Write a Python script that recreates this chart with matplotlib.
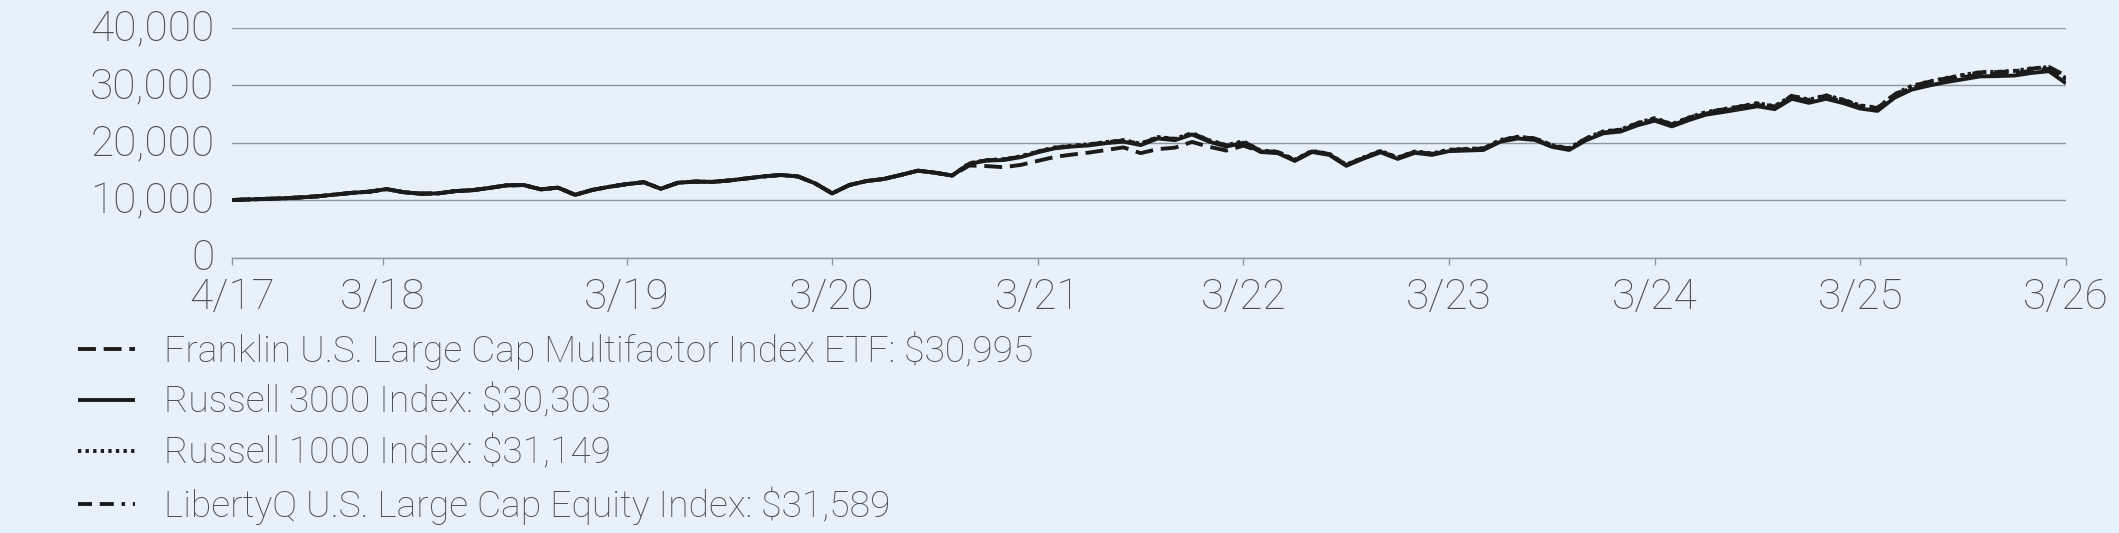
import matplotlib
matplotlib.use("Agg")
import matplotlib.pyplot as plt
import matplotlib.transforms as mtransforms

# ---------------- data (monthly, 4/17 .. 3/26) ----------------
tick_labels = ["4/17", "3/18", "3/19", "3/20", "3/21", "3/22", "3/23", "3/24", "3/25", "3/26"]
tick_months = [0, 8.78, 23, 35, 47, 59, 71, 83, 95, 107]

series_names = [
    "Franklin U.S. Large Cap Multifactor Index ETF: $30,995",
    "Russell 3000 Index: $30,303",
    "Russell 1000 Index: $31,149",
    "LibertyQ U.S. Large Cap Equity Index: $31,589",
]

russell3000 = [
    10000, 10100, 10200, 10300, 10450, 10650, 10950, 11250, 11450, 11900,
    11350, 11100, 11150, 11550, 11700, 12100, 12550, 12600, 11850, 12150,
    10900, 11750, 12300, 12750, 13100, 11950, 13000, 13200, 13150, 13400,
    13750, 14100, 14350, 14100, 12900, 11150, 12600, 13300, 13650, 14350,
    15100, 14750, 14250, 16300, 16850, 16950, 17450, 18300, 19000, 19300,
    19500, 19900, 20150, 19550, 20700, 20400, 21400, 20150, 19300, 19950,
    18350, 18150, 16800, 18350, 17850, 15950, 17200, 18300, 17150, 18200,
    17850, 18500, 18600, 18700, 20150, 20700, 20450, 19250, 18700, 20400,
    21600, 21900, 23000, 23800, 22800, 23900, 24850, 25300, 25800, 26300,
    25800, 27600, 26900, 27600, 26850, 25900, 25500, 27800, 29200, 29900,
    30500, 31000, 31500, 31550, 31650, 32100, 32400, 30303,
]

russell1000 = [
    10000, 10100, 10200, 10300, 10450, 10650, 10950, 11250, 11450, 11900,
    11350, 11100, 11150, 11550, 11700, 12100, 12550, 12600, 11850, 12150,
    10900, 11750, 12300, 12750, 13100, 11950, 13000, 13200, 13150, 13400,
    13750, 14100, 14350, 14100, 12900, 11150, 12600, 13300, 13650, 14350,
    15100, 14750, 14250, 16400, 16950, 17100, 17600, 18450, 19150, 19450,
    19700, 20100, 20400, 19800, 20950, 20650, 21650, 20400, 19550, 20200,
    18600, 18400, 17000, 18550, 18050, 16150, 17400, 18550, 17400, 18450,
    18100, 18750, 18900, 19000, 20450, 21000, 20750, 19550, 19000, 20750,
    21950, 22250, 23400, 24250, 23200, 24350, 25300, 25800, 26300, 26850,
    26300, 28150, 27450, 28200, 27450, 26450, 26050, 28400, 29850, 30600,
    31200, 31750, 32250, 32300, 32450, 32900, 33100, 31149,
]

franklin_etf = [
    10000, 10100, 10200, 10300, 10450, 10650, 10950, 11250, 11450, 11900,
    11350, 11100, 11150, 11550, 11700, 12100, 12550, 12600, 11850, 12150,
    10900, 11750, 12300, 12750, 13100, 11950, 13000, 13200, 13150, 13400,
    13750, 14100, 14350, 14100, 12900, 11150, 12600, 13300, 13650, 14350,
    15100, 14750, 14250, 16000, 15900, 15700, 16100, 16800, 17500, 17900,
    18250, 18700, 19150, 18150, 18850, 19100, 20100, 19250, 18600, 19450,
    18450, 18250, 16900, 18450, 17950, 16050, 17300, 18400, 17250, 18300,
    17950, 18600, 18750, 18850, 20300, 20850, 20600, 19400, 18850, 20550,
    21750, 22050, 23200, 24000, 23000, 24100, 25050, 25550, 26050, 26550,
    26050, 27850, 27200, 27900, 27150, 26200, 25800, 28100, 29550, 30250,
    30850, 31350, 31850, 31900, 32050, 32500, 32800, 30995,
]

libertyq = [
    10000, 10100, 10200, 10300, 10450, 10650, 10950, 11250, 11450, 11900,
    11350, 11100, 11150, 11550, 11700, 12100, 12550, 12600, 11850, 12150,
    10900, 11750, 12300, 12750, 13100, 11950, 13000, 13200, 13150, 13400,
    13750, 14100, 14350, 14100, 12900, 11150, 12600, 13300, 13650, 14350,
    15100, 14750, 14250, 16350, 16900, 17050, 17550, 18400, 19100, 19400,
    19650, 20050, 20350, 19750, 20900, 20600, 21600, 20350, 19500, 20150,
    18550, 18350, 16950, 18500, 18000, 16100, 17350, 18500, 17350, 18400,
    18050, 18700, 18850, 18950, 20400, 20950, 20700, 19500, 18950, 20700,
    21900, 22200, 23350, 24200, 23150, 24300, 25250, 25750, 26250, 26800,
    26250, 28100, 27400, 28150, 27400, 26400, 26000, 28350, 29800, 30550,
    31150, 31700, 32200, 32250, 32400, 32850, 33150, 31589,
]

# ---------------- styling ----------------
BG = "#E7F1FA"
GRID = "#8D97A1"
TXT = "#4E4E4E"
INK = "#1B1B1B"

plt.rcParams["font.family"] = ["Roboto", "DejaVu Sans"]

W, H, DPI = 2119, 533, 100
fig = plt.figure(figsize=(W / DPI, H / DPI), dpi=DPI, facecolor=BG)
ax = fig.add_axes([232.4 / W, (H - 257.5) / H, (2066 - 232.4) / W, (257.5 - 27.5) / H])
ax.set_facecolor(BG)

months = list(range(len(russell3000)))
lw = 2.8
styles = [
    dict(linestyle=(0, (4.6, 2.0))),
    dict(linestyle="-"),
    dict(linestyle=(0, (0.85, 1.1))),
    dict(linestyle=(0, (3.6, 2.0, 3.6, 2.0, 0.9, 2.0))),
]
data = [franklin_etf, russell3000, russell1000, libertyq]
handles = []
for vals, st, name in zip(data, styles, series_names):
    (ln,) = ax.plot(months, vals, color=INK, lw=lw, solid_capstyle="butt",
                    dash_capstyle="butt", label=name, **st)
    handles.append(ln)

ax.set_xlim(0, 107)
ax.set_ylim(0, 40000)
ax.set_yticks([0, 10000, 20000, 30000, 40000])
ax.set_yticklabels(["0", "10,000", "20,000", "30,000", "40,000"])
ax.set_xticks(tick_months)
ax.set_xticklabels(tick_labels)

for s in ["left", "right", "top"]:
    ax.spines[s].set_visible(False)
ax.spines["bottom"].set_color(GRID)
ax.spines["bottom"].set_linewidth(1.0)
ax.grid(axis="y", color=GRID, lw=1.0)
ax.set_axisbelow(True)
ax.tick_params(axis="y", length=0, pad=13, labelsize=30.5, labelcolor=TXT)
ax.tick_params(axis="x", length=5, width=1.0, color=GRID, pad=9, labelsize=30.5, labelcolor=TXT)
for t in ax.get_xticklabels() + ax.get_yticklabels():
    t.set_fontweight("light")

# y tick labels sit a touch above their gridlines, as in the reference
up = mtransforms.ScaledTranslation(0, 3 / DPI, fig.dpi_scale_trans)
for t in ax.get_yticklabels():
    t.set_transform(t.get_transform() + up)

leg = fig.legend(handles=handles, labels=series_names, loc="upper left",
                 bbox_to_anchor=(78 / W, 1 - 331.5 / H), bbox_transform=fig.transFigure,
                 frameon=False, borderpad=0, borderaxespad=0,
                 handlelength=1.54, handletextpad=0.76, labelspacing=0.40,
                 prop=dict(size=26.8, weight="light"))
for t in leg.get_texts():
    t.set_color(TXT)

fig.savefig("out.png", dpi=DPI, facecolor=BG)
